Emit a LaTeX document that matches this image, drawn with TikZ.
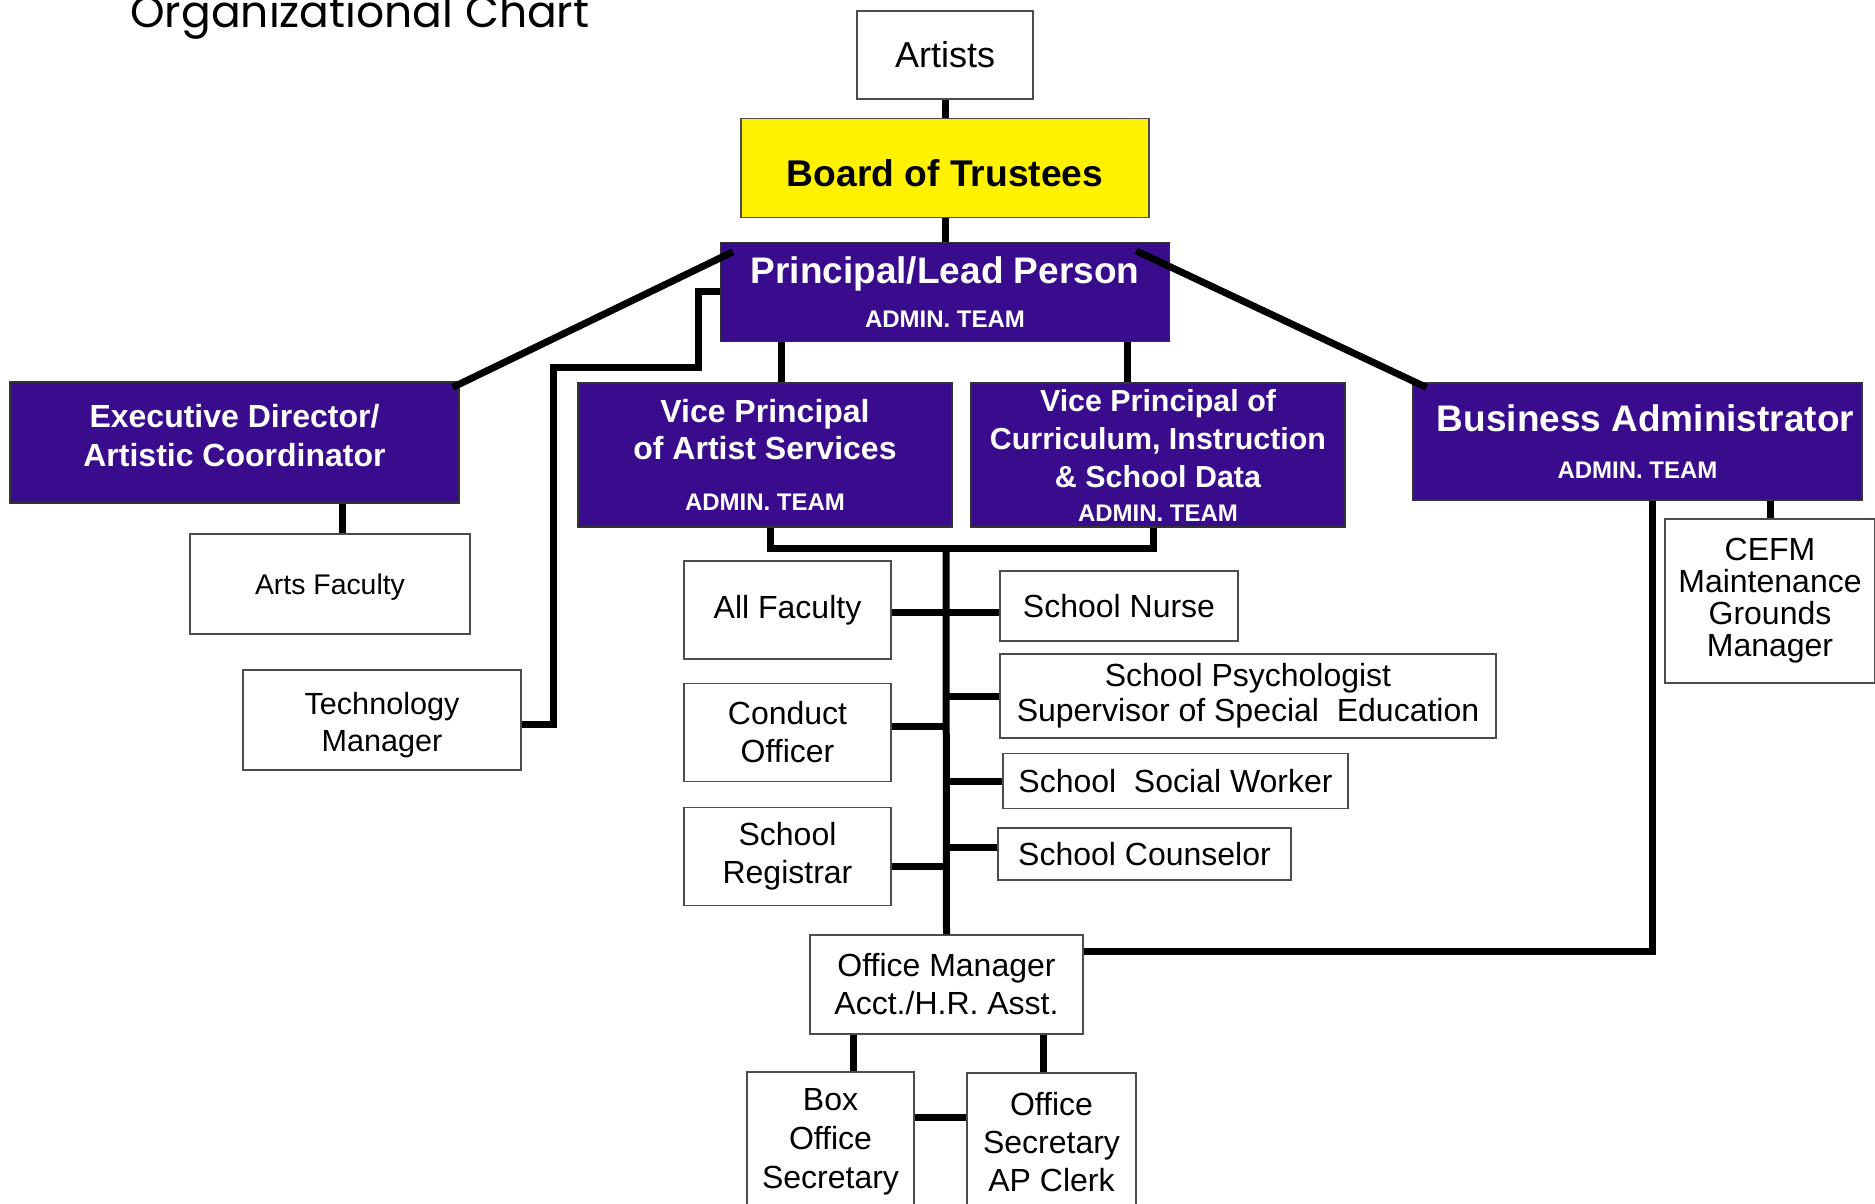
\documentclass[tikz,border=0pt]{standalone}
\usepackage{fontspec}
\setmainfont{Liberation Sans}
\newfontfamily\titlefont{Poppins}
\usepackage{tikz}
\usetikzlibrary{positioning}
\definecolor{adminpurple}{HTML}{380C8C}
\definecolor{boardyellow}{HTML}{FFF200}
\newcommand{\adminteam}{{\fontsize{12}{14}\selectfont ADMIN. TEAM}}

\begin{document}
\begin{tikzpicture}[x=0.5pt,y=-0.5pt,align=center,inner sep=0pt,
		staff/.style={draw=black!70,line width=0.6pt,fill=white,font=\fontsize{16}{19}\selectfont},
		admin/.style={draw=black!80,line width=0.6pt,fill=adminpurple,text=white,font=\bfseries\fontsize{16}{18.5}\selectfont},
		board/.style={draw=black!70,line width=0.6pt,fill=boardyellow,font=\bfseries\fontsize{18.6}{22}\selectfont},
		wh/.style 2 args={minimum width=#1*0.5pt,minimum height=#2*0.5pt},
		link/.style={line width=3.5pt}]
				\useasboundingbox (0,0) rectangle (1875,1204);
				\node[anchor=base west,font=\titlefont\fontsize{22}{26}\selectfont] (title) at (130,27.5) {Organizational Chart};
				\node[staff,wh={176}{88},font=\fontsize{18}{21}\selectfont] (artists) at (945,55) {Artists};
				\node[board,wh={408}{99},text height=18.6pt,text depth=0pt] [below=9pt of artists] (trustees) {Board of Trustees};
				\node[admin,wh={449}{99},font=\bfseries\fontsize{18.5}{22}\selectfont] [below=12pt of trustees] (principal) {Principal/Lead Person\\\adminteam};
				\node[admin,wh={449}{121},font=\bfseries\fontsize{16}{19.5}\selectfont,text depth=7pt] (execdir) at (234.5,442.5) {Executive Director/\\Artistic Coordinator};
				\node[admin,wh={374}{144}] (vpartist) at (765,455) {Vice Principal\\of Artist Services\\[7pt]\adminteam};
				\node[admin,wh={374}{144},font=\bfseries\fontsize{15.2}{19}\selectfont] (vpcurric) at (1158,455) {Vice Principal of\\Curriculum, Instruction\\\& School Data\\[-2pt]\adminteam};
				\node[admin,wh={449}{117},font=\bfseries\fontsize{18.5}{23.5}\selectfont] (business) at (1637.5,441.5) {\hspace*{8pt}Business Administrator\\\adminteam};
				\node[staff,wh={280}{100},font=\fontsize{14.2}{17}\selectfont,text depth=0pt] (artsfac) at (330,584) {Arts Faculty};
				\node[staff,wh={278}{100},font=\fontsize{15.3}{18.5}\selectfont] (techmgr) at (382,720) {\rule{0pt}{16.5pt}Technology\\Manager};
				\node[staff,wh={210}{164},font=\fontsize{16}{16}\selectfont] (cefm) at (1770,601) {CEFM\\Maintenance\\Grounds\\Manager};
				\node[staff,wh={207}{98}] (allfac) at (787.5,610) {All Faculty};
				\node[staff,wh={207}{98}] [below=11.5pt of allfac] (conduct) {Conduct\\Officer};
				\node[staff,wh={207}{98}] [below=12.5pt of conduct] (registrar) {School\\Registrar};
				\node[staff,wh={238}{70}] (nurse) at (1119,606) {School Nurse};
				\node[staff,wh={496}{84},font=\fontsize{16}{17.5}\selectfont] (psych) at (1248,696) {School Psychologist\\Supervisor of Special\ \ Education};
				\node[staff,wh={345}{55}] (social) at (1175.5,781) {School\ \ Social Worker};
				\node[staff,wh={293}{52}] (counselor) at (1144.5,854) {School Counselor};
				\node[staff,wh={273}{99}] (officemgr) at (946.5,984.5) {Office Manager\\Acct./H.R. Asst.};
				\node[staff,wh={167}{140},font=\fontsize{16}{19.5}\selectfont] (boxoffice) at (830.5,1142) {Box\\Office\\Secretary};
				\node[staff,wh={169}{138}] (officesec) at (1051.5,1142) {Office\\Secretary\\AP Clerk};
				\coordinate (bus) at (946,548);
				\path[link]
					(artists) edge (trustees)
					(trustees.south) edge (trustees.south |- principal.north)
					([shift={(13,10)}]principal.north west) edge ([shift={(-7,6)}]execdir.north east)
					([shift={(-34,9)}]principal.north east) edge ([shift={(14,5)}]business.north west)
					([xshift=8pt]vpartist.north) edge ([xshift=8pt]vpartist.north |- principal.south)
					([xshift=-15.5pt]vpcurric.north) edge ([xshift=-15.5pt]vpcurric.north |- principal.south)
					([xshift=6pt]artsfac.north) edge ([xshift=6pt]artsfac.north |- execdir.south)
					(cefm.north) edge (cefm.north |- business.south)
					(bus) edge (officemgr.north)
					([yshift=-1pt]allfac.east) edge ([yshift=-1pt]allfac.east -| bus)
					([yshift=3pt]conduct.east) edge ([yshift=3pt]conduct.east -| bus)
					([yshift=-5pt]registrar.east) edge ([yshift=-5pt]registrar.east -| bus)
					([yshift=-3pt]nurse.west) edge ([yshift=-3pt]nurse.west -| bus)
					(psych.west) edge (psych.west -| bus)
					(social.west) edge (social.west -| bus)
					([yshift=3.5pt]counselor.west) edge ([yshift=3.5pt]counselor.west -| bus)
					([xshift=11.25pt]boxoffice.north) edge ([xshift=11.25pt]boxoffice.north |- officemgr.south)
					([xshift=-4.25pt]officesec.north) edge ([xshift=-4.25pt]officesec.north |- officemgr.south)
					([yshift=12.5pt]boxoffice.east) edge ([yshift=12.5pt]boxoffice.east -| officesec.west);
				\draw[link] ([xshift=2.5pt]vpartist.south) |- (bus) -| ([xshift=-2.5pt]vpcurric.south);
				\draw[link] (principal.west) -- ++(-21,0) -- ++(0,76) -- ++(-145,0) |- ([yshift=-2pt]techmgr.east);
				\draw[link] ([xshift=7.25pt]business.south) |- ([yshift=16.75pt]officemgr.east);
			\end{tikzpicture}
\end{document}
